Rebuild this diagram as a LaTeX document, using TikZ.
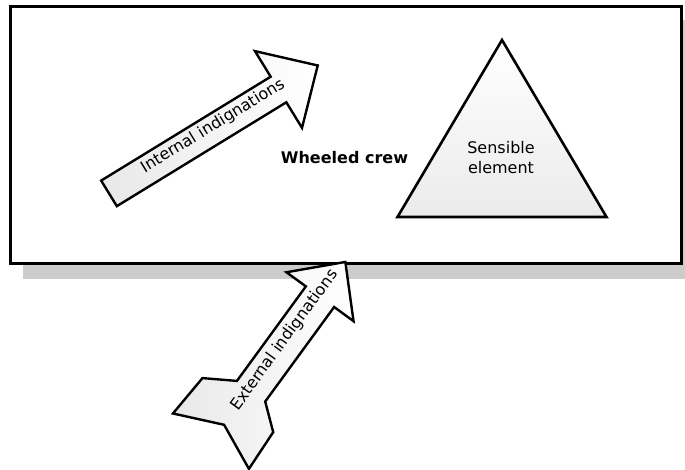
\documentclass[tikz,border=0pt]{standalone}
\usepackage{fontspec}
\setmainfont{DejaVu Sans}
\begin{document}
\begin{tikzpicture}[x=1pt,y=-1pt,
  arrowbox/.style={draw=black, line width=2.4pt, line join=miter},
  lbl/.style={font=\fontsize{16}{20}\selectfont, inner sep=0pt},
  boldlbl/.style={font=\fontsize{16}{20}\selectfont\bfseries, inner sep=0pt}]
\useasboundingbox (0,0) rectangle (685,469);
\clip (0,0) rectangle (685,469);
% shadow and frame
\fill[black!20] (23,20) rectangle (700,279);
\draw[line width=3pt, fill=white] (10.5,6.5) rectangle (681.5,263.5);
% triangle
\draw[line width=2.6pt, line join=miter, top color=white, bottom color=black!8]
  (502,40) -- (606.5,217) -- (397.5,217) -- cycle;
\node[lbl, align=center] (sens) at (501,158) {Sensible\\element};
\node[boldlbl, anchor=base] (crew) at (344.5,163) {Wheeled crew};
% internal arrow
\begin{scope}[shift={(278.5,89.5)}, rotate=31.5]
\draw[arrowbox, left color=black!9, right color=white]
  (46,0) -- (0,-45) -- (0,-15) -- (-198.8,-15) -- (-198.8,15) -- (0,15) -- (0,45) -- cycle;
\node[lbl, rotate=31.5] (intlabel) at (-75,-3) {Internal indignations};
\end{scope}
% external arrow
\begin{scope}[shift={(320,296.7)}, rotate=53.9]
\draw[arrowbox, left color=black!9, right color=white]
  (43,0) -- (0,-41.5) -- (0,-17.5) -- (-117,-17.5) -- (-135,-47) -- (-181,-50)
  -- (-160,-2) -- (-181,44) -- (-137,42) -- (-117,17.5) -- (0,17.5) -- (0,41.5) -- cycle;
\node[lbl, rotate=53.9] (extlabel) at (-56,-3) {External indignations};
\end{scope}
\end{tikzpicture}
\end{document}
